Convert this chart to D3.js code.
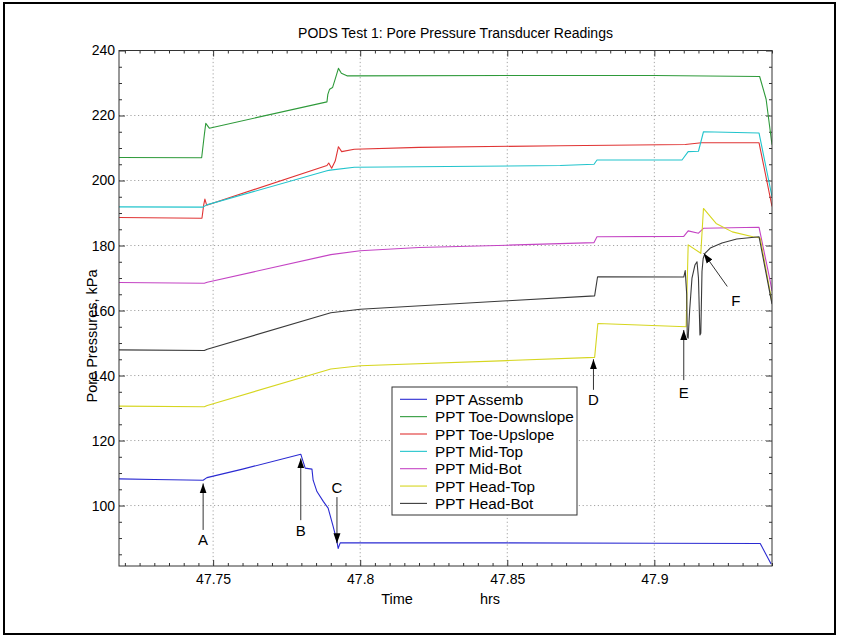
<!DOCTYPE html>
<html><head><meta charset="utf-8">
<script src="https://cdn.jsdelivr.net/npm/d3@7"></script>
<style>
body{margin:0;background:#fff}
svg{display:block}
text{font-family:"Liberation Sans",Arial,Helvetica,sans-serif;fill:#000}
</style>
</head><body>
<svg id="chart" width="841" height="636"></svg>
<script>
// ---------- DATA ----------
const chartTitle = "PODS Test 1: Pore Pressure Transducer Readings";
const yAxisTitle = "Pore Pressures, kPa";
const xAxisTitle = "Time";
const xAxisUnit = "hrs";
const seriesNames = ["PPT Assemb","PPT Toe-Downslope","PPT Toe-Upslope","PPT Mid-Top","PPT Mid-Bot","PPT Head-Top","PPT Head-Bot"];
const seriesColors = ["#2a2ad2","#2e9a3a","#e03434","#22c4cc","#c444c4","#d6d620","#3a3a3a"];
const xTicks = [47.75, 47.8, 47.85, 47.9];
const xTickLabels = ["47.75","47.8","47.85","47.9"];
const yTicks = [100,120,140,160,180,200,220,240];
const yTickLabels = ["100","120","140","160","180","200","220","240"];
const xDomain = [47.718, 47.940];
const yDomain = [81.4, 240];

// [time (hrs), pressure (kPa)]
const pptAssemb = [[47.718,108.2],[47.730,108.0],[47.7466,107.8],[47.7479,108.6],[47.760,111.2],[47.7798,115.8],[47.7813,111.5],[47.7836,111.2],[47.7840,107.8],[47.7853,104.3],[47.7875,101.2],[47.7891,99.2],[47.7908,93.6],[47.7921,89.0],[47.7925,86.8],[47.7932,88.5],[47.85,88.5],[47.90,88.4],[47.936,88.3],[47.9397,82.0]];
const pptToeDownslope = [[47.718,207.1],[47.7461,207.0],[47.7470,214],[47.7475,217.6],[47.7487,216.1],[47.7887,224.2],[47.7890,226.5],[47.7896,228.1],[47.7906,228.6],[47.7916,231.5],[47.7926,234.5],[47.7936,233.0],[47.7955,232.2],[47.85,232.3],[47.90,232.3],[47.9358,232.0],[47.9380,225.0],[47.9400,211.0]];
const pptToeUpslope = [[47.718,188.6],[47.7462,188.4],[47.7468,192.5],[47.7472,194.3],[47.7478,192.4],[47.7887,204.6],[47.7893,205.4],[47.7903,203.8],[47.7915,206],[47.7926,210.4],[47.7937,208.9],[47.798,209.6],[47.82,210.2],[47.868,210.7],[47.9105,211.1],[47.9160,211.6],[47.9356,211.6],[47.9400,192.0]];
const pptMidTop = [[47.718,191.9],[47.7465,191.8],[47.7478,192.5],[47.7887,203.0],[47.7898,203.2],[47.798,204.1],[47.868,204.6],[47.8795,205.0],[47.8805,206.3],[47.9094,206.3],[47.9115,208.9],[47.9150,209.0],[47.9167,215.0],[47.9356,214.6],[47.9400,195.0]];
const pptMidBot = [[47.718,168.6],[47.7470,168.4],[47.7480,168.7],[47.790,177.2],[47.80,178.4],[47.82,179.4],[47.85,180.1],[47.8795,180.9],[47.8805,182.7],[47.9100,182.8],[47.9115,184.5],[47.9150,183.8],[47.9167,185.3],[47.9356,185.6],[47.9393,169.4],[47.9400,166.0]];
const pptHeadTop = [[47.718,130.6],[47.7470,130.4],[47.7480,130.8],[47.790,142.0],[47.80,143.0],[47.85,144.6],[47.8797,145.6],[47.8808,156.0],[47.9108,155.0],[47.9115,180.2],[47.9158,177.6],[47.9167,191.4],[47.9210,186.8],[47.9265,184.2],[47.9335,182.7],[47.9360,182.3],[47.9400,162.5]];
const pptHeadBot = [[47.718,147.9],[47.7470,147.7],[47.7480,148.1],[47.790,159.3],[47.80,160.4],[47.85,163.0],[47.8797,164.5],[47.8807,170.4],[47.9100,170.3],[47.9105,172.3],[47.9110,165],[47.9112,152],[47.9115,151.5],[47.9120,160],[47.9128,170],[47.9138,174],[47.9145,175],[47.9150,170],[47.9155,152.5],[47.9158,153],[47.9162,172],[47.9166,176],[47.9172,177.6],[47.9190,179.2],[47.9230,180.8],[47.9280,182.0],[47.9356,182.7],[47.9400,162.0]];
const seriesData = [pptAssemb, pptToeDownslope, pptToeUpslope, pptMidTop, pptMidBot, pptHeadTop, pptHeadBot];

// annotation arrows: time, tip value, tail value, label value
const annotLabels = ["A","B","C","D","E"];
const annotTime   = [47.7466, 47.7798, 47.7921, 47.8793, 47.9100];
const annotTip    = [106.8, 114.5, 88.4, 145.0, 154.0];
const annotTail   = [92.5, 95.5, 102.6, 135.6, 138.6];
const annotText   = [89.6, 92.3, 105.6, 132.5, 134.6];
const annotF = {label:"F", tipT:47.9168, tipV:177.6, tailT:47.9248, tailV:167.4, textT:47.9277, textV:163.0};

// ---------- LAYOUT ----------
const plot = {left:119, right:772, top:50.5, bottom:566};
const svg = d3.select("#chart");

const x = d3.scaleLinear().domain(xDomain).range([plot.left, plot.right]);
const y = d3.scaleLinear().domain(yDomain).range([plot.bottom, plot.top]);

// outer frame
svg.append("rect").attr("x",4).attr("y",3).attr("width",831).attr("height",631)
  .attr("fill","none").attr("stroke","#000").attr("stroke-width",2);

// gridlines
const grid = svg.append("g").attr("stroke","#9a9a9a").attr("stroke-width",0.9).attr("stroke-dasharray","1.2,2.6");
grid.selectAll(".gx").data(xTicks).join("line")
  .attr("x1",d=>x(d)).attr("x2",d=>x(d)).attr("y1",plot.top).attr("y2",plot.bottom);
grid.selectAll(".gy").data(yTicks.filter(d=>d<240)).join("line")
  .attr("x1",plot.left).attr("x2",plot.right).attr("y1",d=>y(d)).attr("y2",d=>y(d));

// minor ticks
const xMinor = d3.range(47.72, 47.9401, 0.005).map(v=>+v.toFixed(3)).filter(v=>!xTicks.some(t=>Math.abs(t-v)<1e-6));
const yMinor = d3.range(85, 240, 5).filter(v=>v%20!==0);
function styleAxis(g){ g.select(".domain").remove(); g.selectAll("line").attr("stroke","#333"); }
svg.append("g").attr("transform",`translate(0,${plot.bottom})`).call(d3.axisBottom(x).tickValues(xMinor).tickFormat("").tickSize(-3)).call(styleAxis);
svg.append("g").attr("transform",`translate(0,${plot.top})`).call(d3.axisTop(x).tickValues(xMinor).tickFormat("").tickSize(-3)).call(styleAxis);
svg.append("g").attr("transform",`translate(${plot.left},0)`).call(d3.axisLeft(y).tickValues(yMinor).tickFormat("").tickSize(-3)).call(styleAxis);
svg.append("g").attr("transform",`translate(${plot.right},0)`).call(d3.axisRight(y).tickValues(yMinor).tickFormat("").tickSize(-3)).call(styleAxis);

// major ticks + labels
const xb = svg.append("g").attr("transform",`translate(0,${plot.bottom})`)
  .call(d3.axisBottom(x).tickValues(xTicks).tickFormat((d,i)=>xTickLabels[i]).tickSize(-6).tickPadding(8)).call(styleAxis);
xb.selectAll("text").attr("font-size",14).style("font-family","'Liberation Sans',Arial,sans-serif");
svg.append("g").attr("transform",`translate(0,${plot.top})`).call(d3.axisTop(x).tickValues(xTicks).tickFormat("").tickSize(-6)).call(styleAxis);
const yl = svg.append("g").attr("transform",`translate(${plot.left},0)`)
  .call(d3.axisLeft(y).tickValues(yTicks).tickFormat((d,i)=>yTickLabels[i]).tickSize(-6).tickPadding(4)).call(styleAxis);
yl.selectAll("text").attr("font-size",14).style("font-family","'Liberation Sans',Arial,sans-serif");
svg.append("g").attr("transform",`translate(${plot.right},0)`).call(d3.axisRight(y).tickValues(yTicks).tickFormat("").tickSize(-6)).call(styleAxis);

// clip
svg.append("clipPath").attr("id","clip").append("rect")
  .attr("x",plot.left).attr("y",plot.top).attr("width",plot.right-plot.left).attr("height",plot.bottom-plot.top);

// series lines
const line = d3.line().x(d=>x(d[0])).y(d=>y(d[1]));
svg.append("g").attr("clip-path","url(#clip)").selectAll("path").data(seriesData).join("path")
  .attr("d",line).attr("fill","none").attr("stroke",(d,i)=>seriesColors[i]).attr("stroke-width",1.1)
  .attr("stroke-linejoin","round");

// plot box
svg.append("rect").attr("x",plot.left).attr("y",plot.top).attr("width",plot.right-plot.left).attr("height",plot.bottom-plot.top)
  .attr("fill","none").attr("stroke","#333").attr("stroke-width",1);

// arrows
svg.append("defs").append("marker").attr("id","ah").attr("viewBox","0 0 10 10").attr("refX",10).attr("refY",5)
  .attr("markerWidth",10).attr("markerHeight",10).attr("markerUnits","userSpaceOnUse").attr("orient","auto")
  .append("path").attr("d","M0,1.5 L10,5 L0,8.5 Z").attr("fill","#000");
const ann = svg.append("g");
annotLabels.forEach((lab,i)=>{
  ann.append("line").attr("x1",x(annotTime[i])).attr("x2",x(annotTime[i]))
    .attr("y1",y(annotTail[i])).attr("y2",y(annotTip[i])).attr("stroke","#333").attr("stroke-width",1)
    .attr("marker-end","url(#ah)");
  ann.append("text").attr("x",x(annotTime[i])).attr("y",y(annotText[i])).attr("dy","0.36em")
    .attr("text-anchor","middle").attr("font-size",15).text(lab);
});
ann.append("line").attr("x1",x(annotF.tailT)).attr("y1",y(annotF.tailV)).attr("x2",x(annotF.tipT)).attr("y2",y(annotF.tipV))
  .attr("stroke","#333").attr("stroke-width",1).attr("marker-end","url(#ah)");
ann.append("text").attr("x",x(annotF.textT)).attr("y",y(annotF.textV)).attr("dy","0.36em")
  .attr("text-anchor","middle").attr("font-size",15).text(annotF.label);

// titles
svg.append("text").attr("x",(plot.left+plot.right)/2+10).attr("y",38).attr("text-anchor","middle")
  .attr("font-size",14).text(chartTitle);
svg.append("text").attr("transform",`translate(97,336) rotate(-90)`).attr("text-anchor","middle")
  .attr("font-size",14.5).text(yAxisTitle);
svg.append("text").attr("x",397).attr("y",604).attr("text-anchor","middle").attr("font-size",14.5).text(xAxisTitle);
svg.append("text").attr("x",490).attr("y",604).attr("text-anchor","middle").attr("font-size",14.5).text(xAxisUnit);

// legend
const lg = svg.append("g").attr("transform","translate(392,387)");
lg.append("rect").attr("width",185).attr("height",128).attr("fill","#fff").attr("stroke","#333").attr("stroke-width",1);
seriesNames.forEach((n,i)=>{
  const yy = 12.3 + i*17.35;
  lg.append("line").attr("x1",8).attr("x2",35).attr("y1",yy).attr("y2",yy).attr("stroke",seriesColors[i]).attr("stroke-width",1.1);
  lg.append("text").attr("x",43).attr("y",yy).attr("dy","0.36em").attr("font-size",15.3).text(n);
});
</script>
</body></html>
